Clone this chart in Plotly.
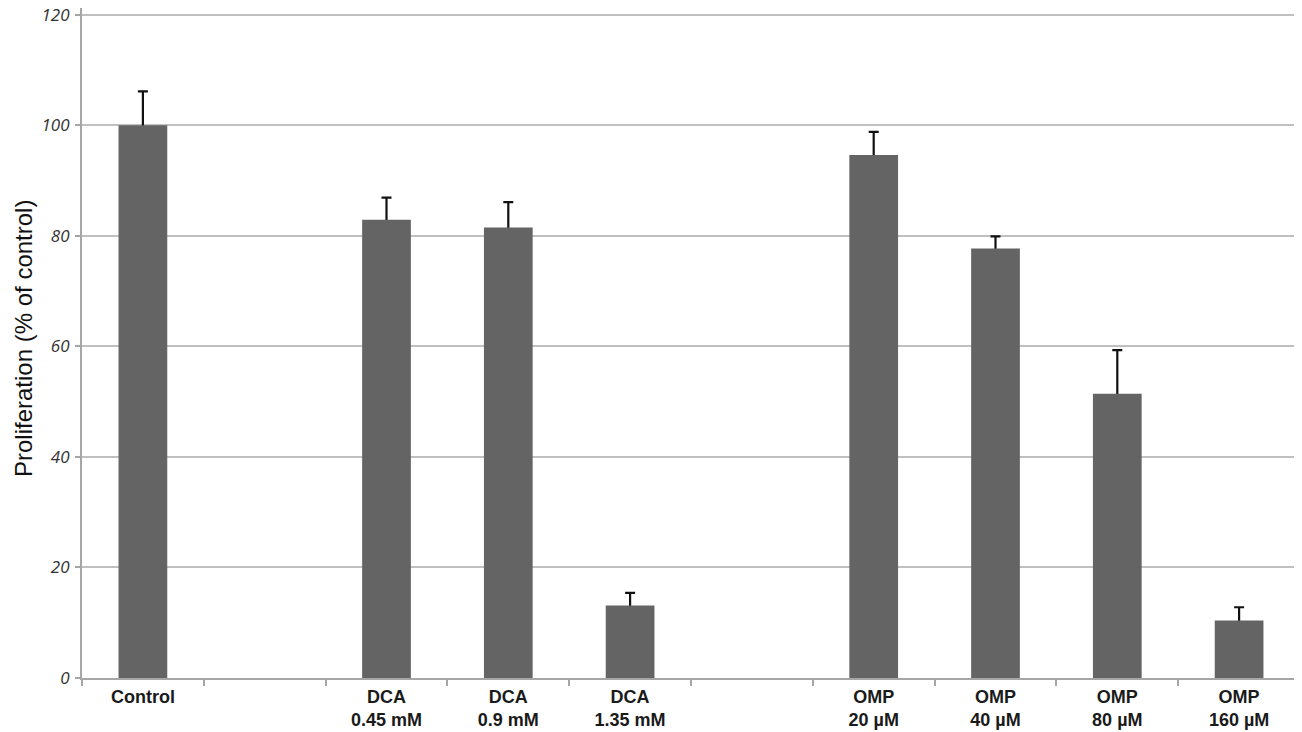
import plotly.graph_objects as go

categories = ["Control", "gap1", "DCA<br>0.45 mM", "DCA<br>0.9 mM", "DCA<br>1.35 mM",
              "gap2", "OMP<br>20 µM", "OMP<br>40 µM", "OMP<br>80 µM", "OMP<br>160 µM"]
tick_labels = ["Control", "", "DCA<br>0.45 mM", "DCA<br>0.9 mM", "DCA<br>1.35 mM",
               "", "OMP<br>20 µM", "OMP<br>40 µM", "OMP<br>80 µM", "OMP<br>160 µM"]
values = [100, None, 82.9, 81.5, 13.1, None, 94.6, 77.7, 51.4, 10.4]
errors = [6.1, None, 4.0, 4.6, 2.3, None, 4.2, 2.2, 7.9, 2.4]
y_ticks = [0, 20, 40, 60, 80, 100, 120]

fig = go.Figure()
# error bars on an invisible bar underneath, so the lower cap is hidden by the real bar
fig.add_trace(go.Bar(
    x=categories, y=values,
    marker=dict(color="rgba(0,0,0,0)", line=dict(width=0)),
    error_y=dict(type="data", array=errors, symmetric=False,
                 arrayminus=[1.0 if e is not None else None for e in errors],
                 color="#111111", thickness=2.2, width=5),
    showlegend=False, hoverinfo="skip",
))
fig.add_trace(go.Bar(
    x=categories, y=values,
    marker=dict(color="#646464", line=dict(width=0)),
    showlegend=False,
))

fig.update_layout(
    width=1294, height=724,
    margin=dict(l=74, r=2, t=0, b=54),
    paper_bgcolor="white", plot_bgcolor="white",
    barmode="overlay",
    bargap=0.6,
    xaxis=dict(
        type="category", categoryorder="array", categoryarray=categories,
        tickmode="array", tickvals=categories,
        ticktext=["<b>%s</b>" % t if t else "" for t in tick_labels],
        tickson="boundaries", ticks="outside", ticklen=6, tickcolor="#a6a6a6", tickwidth=1.5,
        showline=True, linecolor="#a6a6a6", linewidth=2,
        tickfont=dict(family="Liberation Sans, Arial", size=18, color="#1a1a1a"),
        ticklabelstandoff=1,
        showgrid=False, automargin=False, range=[-0.5, 9.5],
    ),
    yaxis=dict(
        range=[0, 121.2], tickvals=y_ticks,
        showgrid=True, gridcolor="#c0c0c0", gridwidth=2,
        ticks="outside", ticklen=5, tickcolor="#a6a6a6", tickwidth=1.5,
        showline=True, linecolor="#a6a6a6", linewidth=2,
        tickfont=dict(family="Open Sans, DejaVu Sans", size=17, color="#333333", style="italic"),
        ticklabelstandoff=2, ticklabeloverflow="allow",
        automargin=False, zeroline=False,
    ),
    annotations=[dict(
        text="Proliferation (% of control)", xref="paper", yref="paper",
        x=(23 - 82) / 1218, y=(678 - 339) / 670, xanchor="center", yanchor="middle",
        textangle=-90, showarrow=False,
        font=dict(family="Liberation Sans, Arial", size=24, color="#111111"),
    )],
)

fig.write_html("out.html")
